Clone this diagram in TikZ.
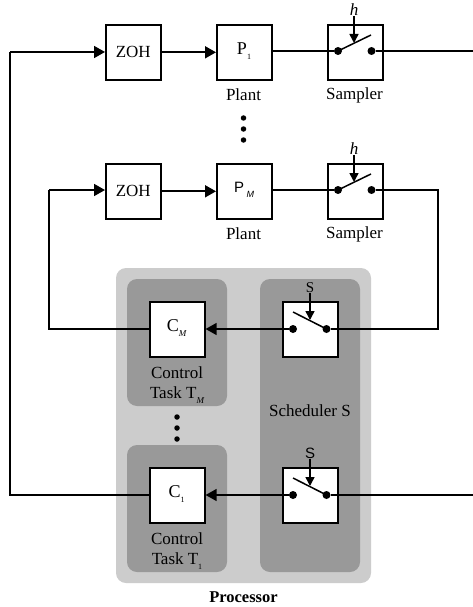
\documentclass[tikz,border=0pt]{standalone}
\usepackage{fontspec}
\setmainfont{Liberation Serif}
\setsansfont{Liberation Sans}
\usetikzlibrary{arrows.meta}
\newcommand{\sbs}[1]{\raisebox{-5pt}{\fontsize{8}{8}\selectfont #1}}
\newcommand{\sbm}{\raisebox{-5pt}{\fontsize{9}{9}\selectfont\itshape M}}
\tikzset{
  x=1pt,y=-1pt,
  block/.style={draw=black,fill=white,line width=1.6pt,minimum size=55pt,inner sep=0pt,anchor=north west,font=\fontsize{17}{17}\selectfont},
  lbl/.style={inner sep=0pt,align=center,font=\fontsize{17}{20}\selectfont},
  wire/.style={line width=1.8pt,draw=black},
  arr/.style={wire,-{Triangle[length=11pt,width=12pt]}},
  thinwire/.style={line width=1.3pt,draw=black},
  lever/.style={line width=1.5pt,draw=black},
  pin/.style={circle,fill=black,minimum size=8pt,inner sep=0pt},
  tick/.style={circle,fill=black,minimum size=5.5pt,inner sep=0pt},
  outerpanel/.style={fill=black!20,rounded corners=10pt},
  innerpanel/.style={fill=black!40,rounded corners=10pt},
  smallarr/.style={line width=1.5pt,draw=black,-{Triangle[length=9pt,width=9pt]}},
}
\begin{document}
\begin{tikzpicture}
\useasboundingbox (0,0) rectangle (473,607);
\fill[white] (0,0) rectangle (473,607);
% panels
\path[outerpanel] (116,268) rectangle (371,583);
\path[innerpanel] (127,279) rectangle (227,406);
\path[innerpanel] (127,445) rectangle (227,572);
\path[innerpanel] (260,279) rectangle (360,572);
% blocks
\node[block] (zoha) at (105,24) {ZOH};
\node[block] (pa) at (216,24) {};
\node[inner sep=0pt,font=\fontsize{18}{18}\selectfont] at (244,51) {P\sbs{1}};
\node[block] (sa) at (327,24) {};
\node[block] (zohb) at (105,163) {ZOH};
\node[block] (pb) at (216,163) {};
\node[inner sep=0pt,font=\sffamily] at (244,190) {\fontsize{15}{15}\selectfont P\,\sbm};
\node[block] (sb) at (327,163) {};
\node[block] (cm) at (149,301) {};
\node[inner sep=0pt,font=\fontsize{18}{18}\selectfont] at (176.5,328) {C\sbm};
\node[block] (cb) at (149,467) {};
\node[inner sep=0pt,font=\fontsize{18}{18}\selectfont] at (176.5,494) {C\sbs{1}};
\node[block] (wm) at (282,301) {};
\node[block] (wb) at (282,467) {};
% labels
\node[lbl] at (243.5,95) {Plant};
\node[lbl] at (354.5,95) {Sampler};
\node[lbl] at (243.5,234) {Plant};
\node[lbl] at (354.5,234) {Sampler};
\node[lbl] at (177,385) {Control\\Task T\sbm};
\node[lbl] at (177,551) {Control\\Task T\sbs{1}};
\node[lbl] at (310,411) {Scheduler S};
\node[lbl,font=\fontsize{16.5}{16.5}\selectfont\bfseries] at (243.5,597) {Processor};
\node[lbl,font=\fontsize{17}{17}\selectfont\itshape] (ha) at (354,10) {h};
\node[lbl,font=\fontsize{17}{17}\selectfont\itshape] (hb) at (354,149) {h};
\node[lbl,font=\fontsize{15}{15}\selectfont] (sm) at (310,287.5) {S};
\node[lbl,font=\fontsize{15}{15}\selectfont\sffamily] (sl) at (310,453) {S};
% switch pins
\node[pin] (a1) at (338,51) {};
\node[pin] (a2) at (371.5,51) {};
\node[pin] (b1) at (338,190) {};
\node[pin] (b2) at (371.5,190) {};
\node[pin] (m1) at (293,329) {};
\node[pin] (m2) at (326.5,329) {};
\node[pin] (l1) at (293,495) {};
\node[pin] (l2) at (326.5,495) {};
% free ends and corners
\coordinate (ra) at (473,51);
\coordinate (rl) at (473,495);
\coordinate (cr) at (438,190);
\coordinate (crm) at (438,329);
\coordinate (la) at (10,52);
\coordinate (lb) at (10,495);
\coordinate (ma) at (49,190);
\coordinate (mb) at (49,329);
% levers
\draw[lever] (a1.center) -- (371,35);
\draw[lever] (b1.center) -- (371,174);
\draw[lever] (293,312) -- (m2.center);
\draw[lever] (293,478) -- (l2.center);
% control arrows
\draw[smallarr] (ha.south) -- (354,43);
\draw[smallarr] (hb.south) -- (354,182);
\draw[smallarr] (sm.south) -- (310,320);
\draw[smallarr] (sl.south) -- (310,486);
% wires
\draw[arr] (la) -- (zoha.west |- la);
\draw[wire] (la) -- (lb) -- (cb.west |- lb);
\draw[arr] (zoha.east) -- (pa.west);
\draw[wire] (pa.east |- a1) -- (a1);
\draw[wire] (a2) -- (ra);
\draw[arr] (ma) -- (zohb.west |- ma);
\draw[wire] (ma) -- (mb) -- (cm.west |- mb);
\draw[arr] (zohb.east) -- (pb.west);
\draw[wire] (pb.east |- b1) -- (b1);
\draw[wire] (b2) -- (cr) -- (crm) -- (m2);
\draw[thinwire,-{Triangle[length=11pt,width=12pt]}] (m1) -- (cm.east |- m1);
\draw[thinwire] (rl) -- (l2);
\draw[thinwire,-{Triangle[length=11pt,width=12pt]}] (l1) -- (cb.east |- l1);
% ellipsis dots
\node[tick] at (243.5,118) {};
\node[tick] at (243.5,129) {};
\node[tick] at (243.5,140) {};
\node[tick] at (177,417) {};
\node[tick] at (177,428) {};
\node[tick] at (177,439) {};
\end{tikzpicture}
\end{document}
